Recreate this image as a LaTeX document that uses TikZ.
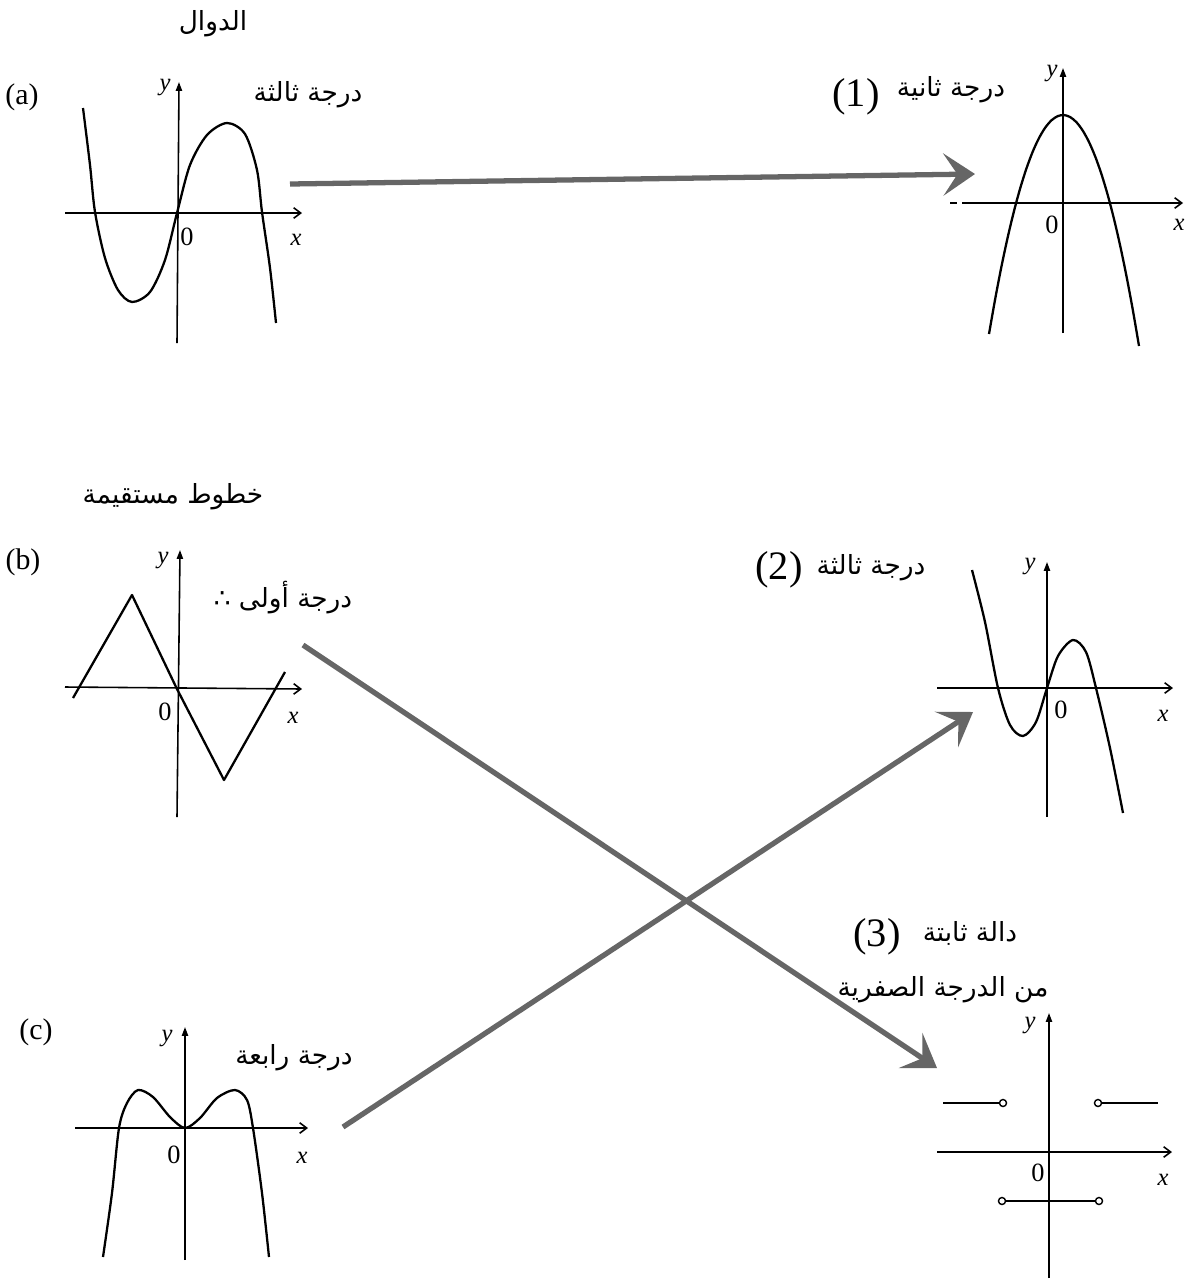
\documentclass[tikz,border=0pt]{standalone}
\usepackage{fontspec}
\setmainfont{Liberation Serif}
\newfontfamily\arabicfont[Script=Arabic]{DejaVu Sans}
\TeXXeTstate=1
\usetikzlibrary{arrows.meta,positioning}

\begin{document}
\begin{tikzpicture}[
  x=0.02cm, y=-0.02cm,
  curve/.style={line width=1.3pt, line join=round},
  axis/.style={line width=0.9pt, -{Straight Barb[length=4pt,width=6pt]}},
  yaxis/.style={line width=0.9pt, -{Triangle[length=5pt,width=3.5pt]}},
  bigarr/.style={-{Stealth[length=18pt,width=24pt,inset=8pt]}, line width=3pt, black!60},
  arlabel/.style={font=\arabicfont\fontsize{15}{17}\selectfont},
  numlabel/.style={font=\fontsize{23}{25}\selectfont},
  letlabel/.style={font=\fontsize{17}{19}\selectfont},
  ticklabel/.style={font=\fontsize{15}{17}\selectfont, inner sep=1pt},
  varlabel/.style={font=\fontsize{14}{16}\selectfont\itshape, inner sep=1pt},
  hole/.style={circle, draw, fill=white, line width=0.8pt, minimum size=4pt, inner sep=0pt}
]
  \useasboundingbox (0,0) rectangle (1185,1282);

  % (a) third degree
  \node[arlabel] (title-a) at (213,24) {\beginR الدوال\endR};
  \node[letlabel] (tag-a) at (22,97) {(a)};
  \node[arlabel] (deg-a) at (308,95) {\beginR درجة ثالثة\endR};
  \draw[axis] (65,213) -- (302,213);
  \draw[yaxis] (177,343) -- (179,82);
  \node[varlabel] (y-a) at (165,88) {y};
  \node[ticklabel] (o-a) at (187,237) {0};
  \node[varlabel] (x-a) at (296,240) {x};
  \draw[curve] plot[smooth] coordinates {(83,108) (90,165) (95,212) (105,258) (118,290) (132,302) (150,292) (165,260) (177,213) (190,165) (207,135) (227,123) (245,134) (257,170) (262,212) (270,268) (276,323)};

  % (1) second degree
  \node[numlabel] (tag-1) at (856,97) {(1)};
  \node[arlabel] (deg-1) at (951,90) {\beginR درجة ثانية\endR};
  \draw[line width=0.9pt] (950,203) -- (957,203);
  \draw[axis] (962,203) -- (1183,203);
  \draw[yaxis] (1063,333) -- (1063,68);
  \node[varlabel] (y-1) at (1052,74) {y};
  \node[ticklabel] (o-1) at (1052,225) {0};
  \node[varlabel] (x-1) at (1179,225) {x};
  \draw[curve] plot[smooth, domain=-74:76] ({1063+\x},{115+0.04*\x*\x});

  % (b) straight lines
  \node[arlabel] (title-b) at (173,497) {\beginR خطوط مستقيمة\endR};
  \node[letlabel] (tag-b) at (23,562) {(b)};
  \node[arlabel] (deg-b) at (283,598) {∴ \beginR درجة أولى\endR};
  \draw[axis] (65,687) -- (302,689);
  \draw[yaxis] (177,817) -- (180,550);
  \node[varlabel] (y-b) at (163,560) {y};
  \node[ticklabel] (o-b) at (165,712) {0};
  \node[varlabel] (x-b) at (293,718) {x};
  \draw[curve] (73,698) -- (132,595) -- (177,689) -- (224,780) -- (285,672);

  % (2) third degree
  \node[numlabel] (tag-2) at (779,570) {(2)};
  \node[arlabel] (deg-2) at (871,568) {\beginR درجة ثالثة\endR};
  \draw[axis] (937,688) -- (1173,688);
  \draw[yaxis] (1047,817) -- (1047,562);
  \node[varlabel] (y-2) at (1030,566) {y};
  \node[ticklabel] (o-2) at (1061,710) {0};
  \node[varlabel] (x-2) at (1163,716) {x};
  \draw[curve] plot[smooth] coordinates {(972,570) (985,622) (998,688) (1010,725) (1023,736) (1036,722) (1047,688) (1058,656) (1073,640) (1086,652) (1096,688) (1110,748) (1123,813)};

  % (c) fourth degree
  \node[letlabel] (tag-c) at (36,1032) {(c)};
  \node[arlabel] (deg-c) at (294,1058) {\beginR درجة رابعة\endR};
  \draw[axis] (75,1128) -- (308,1128);
  \draw[yaxis] (185,1260) -- (185,1027);
  \node[varlabel] (y-c) at (167,1038) {y};
  \node[ticklabel] (o-c) at (174,1155) {0};
  \node[varlabel] (x-c) at (302,1158) {x};
  \draw[curve] plot[smooth] coordinates {(103,1257) (112,1193) (119,1128) (127,1103) (138,1090) (153,1097) (170,1117) (185,1128) (200,1118) (217,1098) (235,1090) (247,1100) (253,1128) (262,1193) (269,1257)};

  % (3) constant function
  \node[numlabel] (tag-3) at (877,937) {(3)};
  \node[arlabel] (deg-3) at (970,933) {\beginR دالة ثابتة\endR};
  \node[arlabel] (zero-3) at (943,990) {\beginR من الدرجة الصفرية\endR};
  \draw[axis] (937,1152) -- (1172,1152);
  \draw[yaxis] (1049,1278) -- (1049,1013);
  \node[varlabel] (y-3) at (1030,1025) {y};
  \node[ticklabel] (o-3) at (1038,1173) {0};
  \node[varlabel] (x-3) at (1163,1180) {x};
  \node[hole] (h1) at (1003,1103) {};
  \node[hole] (h2) at (1098,1103) {};
  \node[hole] (h3) at (1002,1201) {};
  \node[hole] (h4) at (1099,1201) {};
  \coordinate (s1) at (943,1103);
  \coordinate (s2) at (1158,1103);
  \draw[line width=1pt] (s1) -- (h1);
  \draw[line width=1pt] (h2) -- (s2);
  \draw[line width=1pt] (h3) -- (h4);

  % matching arrows
  \coordinate (a-out) at (290,184);
  \coordinate (p-in) at (975,174);
  \coordinate (b-out) at (303,645);
  \coordinate (z-in) at (937,1068);
  \coordinate (c-out) at (343,1127);
  \coordinate (t-in) at (973,712);
  \draw[bigarr] (a-out) -- (p-in);
  \draw[bigarr] (b-out) -- (z-in);
  \draw[bigarr] (c-out) -- (t-in);
\end{tikzpicture}
\end{document}
